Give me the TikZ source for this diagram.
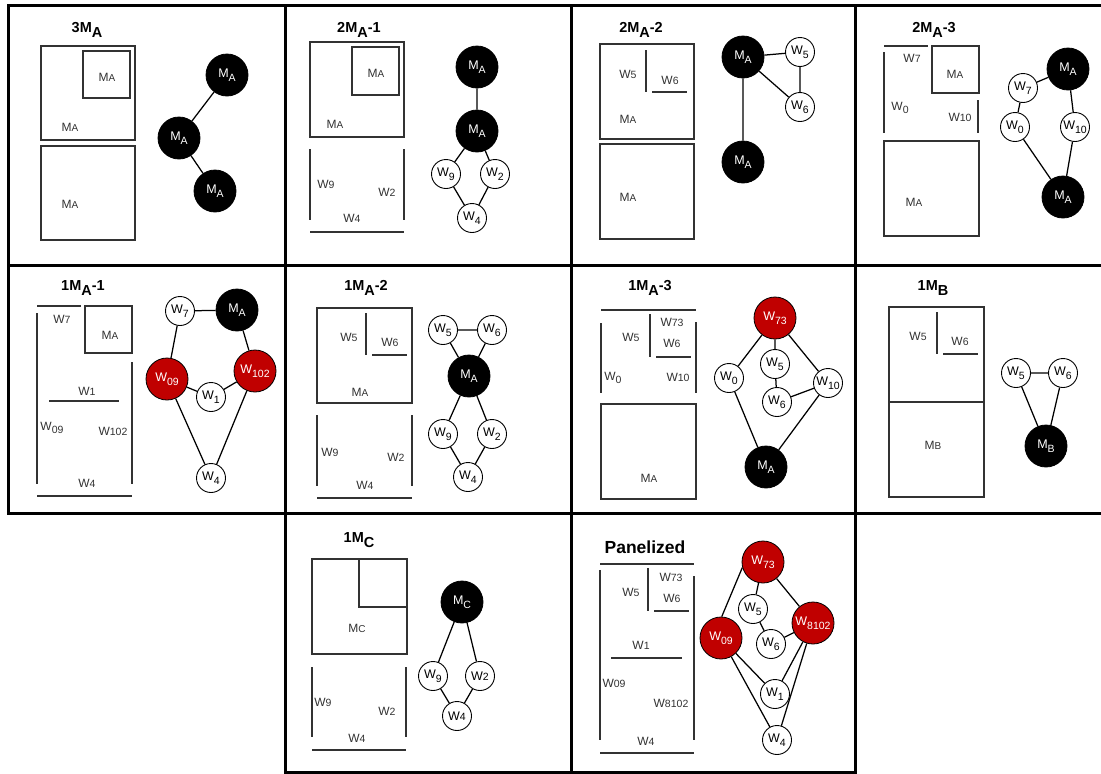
\documentclass[tikz,border=0pt]{standalone}
\usepackage{fontspec}
\setmainfont{Liberation Sans}
\definecolor{myred}{RGB}{192,0,0}
\definecolor{boxgray}{RGB}{50,50,50}
\newcommand\ndM[1]{M\raisebox{-3.5pt}{\fontsize{10.5}{11}\selectfont #1}}
\newcommand\ndW[1]{W\raisebox{-3.5pt}{\fontsize{10.5}{11}\selectfont #1}}
\newcommand\bxM[1]{M{\fontsize{10}{11}\selectfont #1}}
\newcommand\bxW[1]{W{\fontsize{10.5}{11}\selectfont #1}}
\newcommand\lwW[1]{W\raisebox{-2.5pt}{\fontsize{10.5}{11}\selectfont #1}}
\newcommand\ttM[1]{M\raisebox{-5pt}{#1}}
\tikzset{
  frame/.style={line width=3pt, line cap=rect},
  box/.style={draw=boxgray, line width=1.1pt},
  edge/.style={line width=1.25pt, draw=black},
  big/.style={circle, fill=black, draw=black, line width=0.8pt, minimum size=42pt, inner sep=0pt, text=white, font=\fontsize{12.5}{13}\selectfont},
  rednd/.style={circle, fill=myred, draw=black, line width=0.8pt, minimum size=42pt, inner sep=0pt, text=white, font=\fontsize{12.5}{13}\selectfont},
  sml/.style={circle, fill=white, draw=black, line width=0.9pt, minimum size=29pt, inner sep=0pt, font=\fontsize{12.5}{13}\selectfont},
  lab/.style={inner sep=0pt, text=boxgray, font=\fontsize{12}{13}\selectfont},
  ttl/.style={inner sep=0pt, font=\bfseries\fontsize{14.5}{15}\selectfont}
}
\begin{document}
\begin{tikzpicture}[x=1pt,y=-1pt]
\useasboundingbox (0,0) rectangle (1101,774);
% ---- frame ----
\draw[frame] (8,5) -- (1103,5);
\draw[frame] (8,265) -- (1103,265);
\draw[frame] (8,513) -- (1103,513);
\draw[frame] (285,772) -- (855,772);
\draw[frame] (8,5) -- (8,513);
\draw[frame] (285,5) -- (285,772);
\draw[frame] (571,5) -- (571,772);
\draw[frame] (855,5) -- (855,772);

% ---- Panel 1: 3MA ----
\node[ttl] (t1) at (87,30) {3\ttM{A}};
\draw[box] (41,46) rectangle (135,140);
\draw[box] (83,51) rectangle (130,98);
\node[lab] (l1a) at (107,77) {\bxM{A}};
\node[lab] (l1b) at (70,127) {\bxM{A}};
\draw[box] (41,146) rectangle (135,240);
\node[lab] (l1c) at (70,204) {\bxM{A}};
\node[big] (n1a) at (227,75) {\ndM{A}};
\node[big] (n1b) at (179,138) {\ndM{A}};
\node[big] (n1c) at (215,191) {\ndM{A}};
\draw[edge] (n1a) -- (n1b) (n1b) -- (n1c);

% ---- Panel 2: 2MA-1 ----
\node[ttl] (t2) at (359,30) {2\ttM{A}-1};
\draw[box] (310,42) rectangle (404,137);
\draw[box] (352,47) rectangle (399,95);
\node[lab] (l2a) at (376,73) {\bxM{A}};
\node[lab] (l2b) at (335,124) {\bxM{A}};
\draw[box] (310,149) -- (310,220);
\draw[box] (404,149) -- (404,220);
\draw[box] (310,232) -- (404,232);
\node[lab] (l2c) at (326,184) {\bxW{9}};
\node[lab] (l2d) at (387,192) {\bxW{2}};
\node[lab] (l2e) at (352,218) {\bxW{4}};
\node[big] (n2a) at (477,67) {\ndM{A}};
\node[big] (n2b) at (477,131) {\ndM{A}};
\node[sml] (n2c) at (446,174) {\ndW{9}};
\node[sml] (n2d) at (495,174) {\ndW{2}};
\node[sml] (n2e) at (472,218) {\ndW{4}};
\draw[edge] (n2a) -- (n2b) (n2b) -- (n2c) (n2b) -- (n2d) (n2c) -- (n2e) (n2d) -- (n2e);

% ---- Panel 3: 2MA-2 ----
\node[ttl] (t3) at (641,30) {2\ttM{A}-2};
\draw[box] (600,44) rectangle (694,139);
\draw[box] (646,50) -- (646,92);
\draw[box] (652,92) -- (687,92);
\node[lab] (l3a) at (628,74) {\bxW{5}};
\node[lab] (l3b) at (670,80) {\bxW{6}};
\node[lab] (l3c) at (628,119) {\bxM{A}};
\draw[box] (600,144) rectangle (694,239);
\node[lab] (l3d) at (628,197) {\bxM{A}};
\node[big] (n3a) at (743,57) {\ndM{A}};
\node[big] (n3b) at (743,162) {\ndM{A}};
\node[sml] (n3c) at (800,52) {\ndW{5}};
\node[sml] (n3d) at (800,107) {\ndW{6}};
\draw[edge] (n3a) -- (n3c) (n3a) -- (n3d) (n3c) -- (n3d) (n3a) -- (n3b);

% ---- Panel 4: 2MA-3 ----
\node[ttl] (t4) at (934,30) {2\ttM{A}-3};
\draw[box] (884,46) -- (928,46);
\draw[box] (932,46) rectangle (979,93);
\draw[box] (884,52) -- (884,133);
\draw[box] (978,100) -- (978,133);
\node[lab] (l4a) at (912,58) {\bxW{7}};
\node[lab] (l4b) at (955,74) {\bxM{A}};
\node[lab] (l4c) at (900,108) {\lwW{0}};
\node[lab] (l4d) at (960,117) {\bxW{10}};
\draw[box] (884,141) rectangle (979,236);
\node[lab] (l4e) at (914,202) {\bxM{A}};
\node[big] (n4a) at (1068,69) {\ndM{A}};
\node[sml] (n4b) at (1023,88) {\ndW{7}};
\node[sml] (n4c) at (1015,127) {\ndW{0}};
\node[sml] (n4d) at (1075,127) {\ndW{10}};
\node[big] (n4e) at (1063,197) {\ndM{A}};
\draw[edge] (n4b) -- (n4a) (n4b) -- (n4c) (n4a) -- (n4d) (n4c) -- (n4e) (n4d) -- (n4e);

% ---- Panel 5: 1MA-1 ----
\node[ttl] (t5) at (83,288) {1\ttM{A}-1};
\draw[box] (37,306) -- (81,306);
\draw[box] (85,306) rectangle (132,353);
\draw[box] (37,313) -- (37,484);
\draw[box] (132,362) -- (132,484);
\draw[box] (49,401) -- (119,401);
\draw[box] (37,496) -- (132,496);
\node[lab] (l5a) at (62,319) {\bxW{7}};
\node[lab] (l5b) at (110,335) {\bxM{A}};
\node[lab] (l5c) at (87,391) {\bxW{1}};
\node[lab] (l5d) at (52,428) {\lwW{09}};
\node[lab] (l5e) at (113,431) {\bxW{102}};
\node[lab] (l5f) at (87,483) {\bxW{4}};
\node[sml] (n5a) at (180,311) {\ndW{7}};
\node[big] (n5b) at (237,310) {\ndM{A}};
\node[rednd] (n5c) at (167,379) {\ndW{09}};
\node[rednd] (n5d) at (255,371) {\ndW{102}};
\node[sml] (n5e) at (211,397) {\ndW{1}};
\node[sml] (n5f) at (211,478) {\ndW{4}};
\draw[edge] (n5a) -- (n5b) (n5a) -- (n5c) (n5b) -- (n5d) (n5c) -- (n5e) (n5e) -- (n5d) (n5c) -- (n5f) (n5d) -- (n5f);

% ---- Panel 6: 1MA-2 ----
\node[ttl] (t6) at (366,288) {1\ttM{A}-2};
\draw[box] (317,308) rectangle (412,403);
\draw[box] (366,313) -- (366,355);
\draw[box] (372,355) -- (407,355);
\node[lab] (l6a) at (349,337) {\bxW{5}};
\node[lab] (l6b) at (390,342) {\bxW{6}};
\node[lab] (l6c) at (360,392) {\bxM{A}};
\draw[box] (317,415) -- (317,486);
\draw[box] (412,415) -- (412,486);
\draw[box] (317,498) -- (412,498);
\node[lab] (l6d) at (330,452) {\bxW{9}};
\node[lab] (l6e) at (396,457) {\bxW{2}};
\node[lab] (l6f) at (365,485) {\bxW{4}};
\node[sml] (n6a) at (443,330) {\ndW{5}};
\node[sml] (n6b) at (492,330) {\ndW{6}};
\node[big] (n6c) at (469,376) {\ndM{A}};
\node[sml] (n6d) at (443,434) {\ndW{9}};
\node[sml] (n6e) at (492,434) {\ndW{2}};
\node[sml] (n6f) at (468,477) {\ndW{4}};
\draw[edge] (n6a) -- (n6b) (n6a) -- (n6c) (n6b) -- (n6c) (n6c) -- (n6d) (n6c) -- (n6e) (n6d) -- (n6f) (n6e) -- (n6f);

% ---- Panel 7: 1MA-3 ----
\node[ttl] (t7) at (650,288) {1\ttM{A}-3};
\draw[box] (601,310) -- (696,310);
\draw[box] (601,323) -- (601,393);
\draw[box] (696,322) -- (696,393);
\draw[box] (650,314) -- (650,357);
\draw[box] (656,357) -- (691,357);
\node[lab] (l7a) at (672,322) {\bxW{73}};
\node[lab] (l7b) at (631,337) {\bxW{5}};
\node[lab] (l7c) at (672,343) {\bxW{6}};
\node[lab] (l7d) at (613,378) {\lwW{0}};
\node[lab] (l7e) at (678,377) {\bxW{10}};
\draw[box] (601,404) rectangle (696,499);
\node[lab] (l7f) at (649,478) {\bxM{A}};
\node[rednd] (n7a) at (775,318) {\ndW{73}};
\node[sml] (n7b) at (775,364) {\ndW{5}};
\node[sml] (n7c) at (777,402) {\ndW{6}};
\node[sml] (n7d) at (729,378) {\ndW{0}};
\node[sml] (n7e) at (828,383) {\ndW{10}};
\node[big] (n7f) at (766,467) {\ndM{A}};
\draw[edge] (n7a) -- (n7d) (n7a) -- (n7b) (n7a) -- (n7e) (n7b) -- (n7c) (n7c) -- (n7e) (n7d) -- (n7f) (n7e) -- (n7f);

% ---- Panel 8: 1MB ----
\node[ttl] (t8) at (933,288) {1\ttM{B}};
\draw[box] (889,307) rectangle (984,497);
\draw[box] (889,402) -- (984,402);
\draw[box] (937,312) -- (937,354);
\draw[box] (943,354) -- (978,354);
\node[lab] (l8a) at (918,336) {\bxW{5}};
\node[lab] (l8b) at (960,341) {\bxW{6}};
\node[lab] (l8c) at (933,445) {\bxM{B}};
\node[sml] (n8a) at (1016,373) {\ndW{5}};
\node[sml] (n8b) at (1063,373) {\ndW{6}};
\node[big] (n8c) at (1046,446) {\ndM{B}};
\draw[edge] (n8a) -- (n8b) (n8a) -- (n8c) (n8b) -- (n8c);

% ---- Panel 9: 1MC ----
\node[ttl] (t9) at (359,540) {1\ttM{C}};
\draw[box] (312,559) rectangle (407,654);
\draw[box] (359,559) -- (359,607) -- (407,607);
\node[lab] (l9a) at (357,628) {\bxM{C}};
\draw[box] (312,667) -- (312,737);
\draw[box] (406,667) -- (406,737);
\draw[box] (312,750) -- (406,750);
\node[lab] (l9b) at (323,702) {\bxW{9}};
\node[lab] (l9c) at (387,711) {\bxW{2}};
\node[lab] (l9d) at (357,738) {\bxW{4}};
\node[big] (n9a) at (462,602) {\ndM{C}};
\node[sml] (n9b) at (433,676) {\ndW{9}};
\node[sml] (n9c) at (480,676) {\bxW{2}};
\node[sml] (n9d) at (457,716) {\bxW{4}};
\draw[edge] (n9a) -- (n9b) (n9a) -- (n9c) (n9b) -- (n9d) (n9c) -- (n9d);

% ---- Panel 10: Panelized ----
\node[ttl, font=\bfseries\fontsize{17.5}{18}\selectfont] (t10) at (645,547) {Panelized};
\draw[box] (600,564) -- (694,564);
\draw[box] (600,570) -- (600,740);
\draw[box] (694,576) -- (694,740);
\draw[box] (648,568) -- (648,611);
\draw[box] (654,611) -- (689,611);
\draw[box] (611,658) -- (682,658);
\draw[box] (600,753) -- (694,753);
\node[lab] (l10a) at (671,577) {\bxW{73}};
\node[lab] (l10b) at (631,592) {\bxW{5}};
\node[lab] (l10c) at (672,598) {\bxW{6}};
\node[lab] (l10d) at (641,645) {\bxW{1}};
\node[lab] (l10e) at (614,683) {\bxW{09}};
\node[lab] (l10f) at (671,703) {\bxW{8102}};
\node[lab] (l10g) at (646,741) {\bxW{4}};
\node[rednd] (n10a) at (763,562) {\ndW{73}};
\node[sml] (n10b) at (753,609) {\ndW{5}};
\node[rednd] (n10c) at (813,623) {\ndW{8102}};
\node[rednd] (n10d) at (721,638) {\ndW{09}};
\node[sml] (n10e) at (771,644) {\ndW{6}};
\node[sml] (n10f) at (775,694) {\ndW{1}};
\node[sml] (n10g) at (777,740) {\ndW{4}};
\draw[edge] (n10a.195) -- (n10d.88) (n10a) -- (n10b) (n10a) -- (n10c) (n10b) -- (n10e) (n10e) -- (n10c)
  (n10d) -- (n10f) (n10c) -- (n10f) (n10d) -- (n10g) (n10c) -- (n10g);
\end{tikzpicture}
\end{document}
